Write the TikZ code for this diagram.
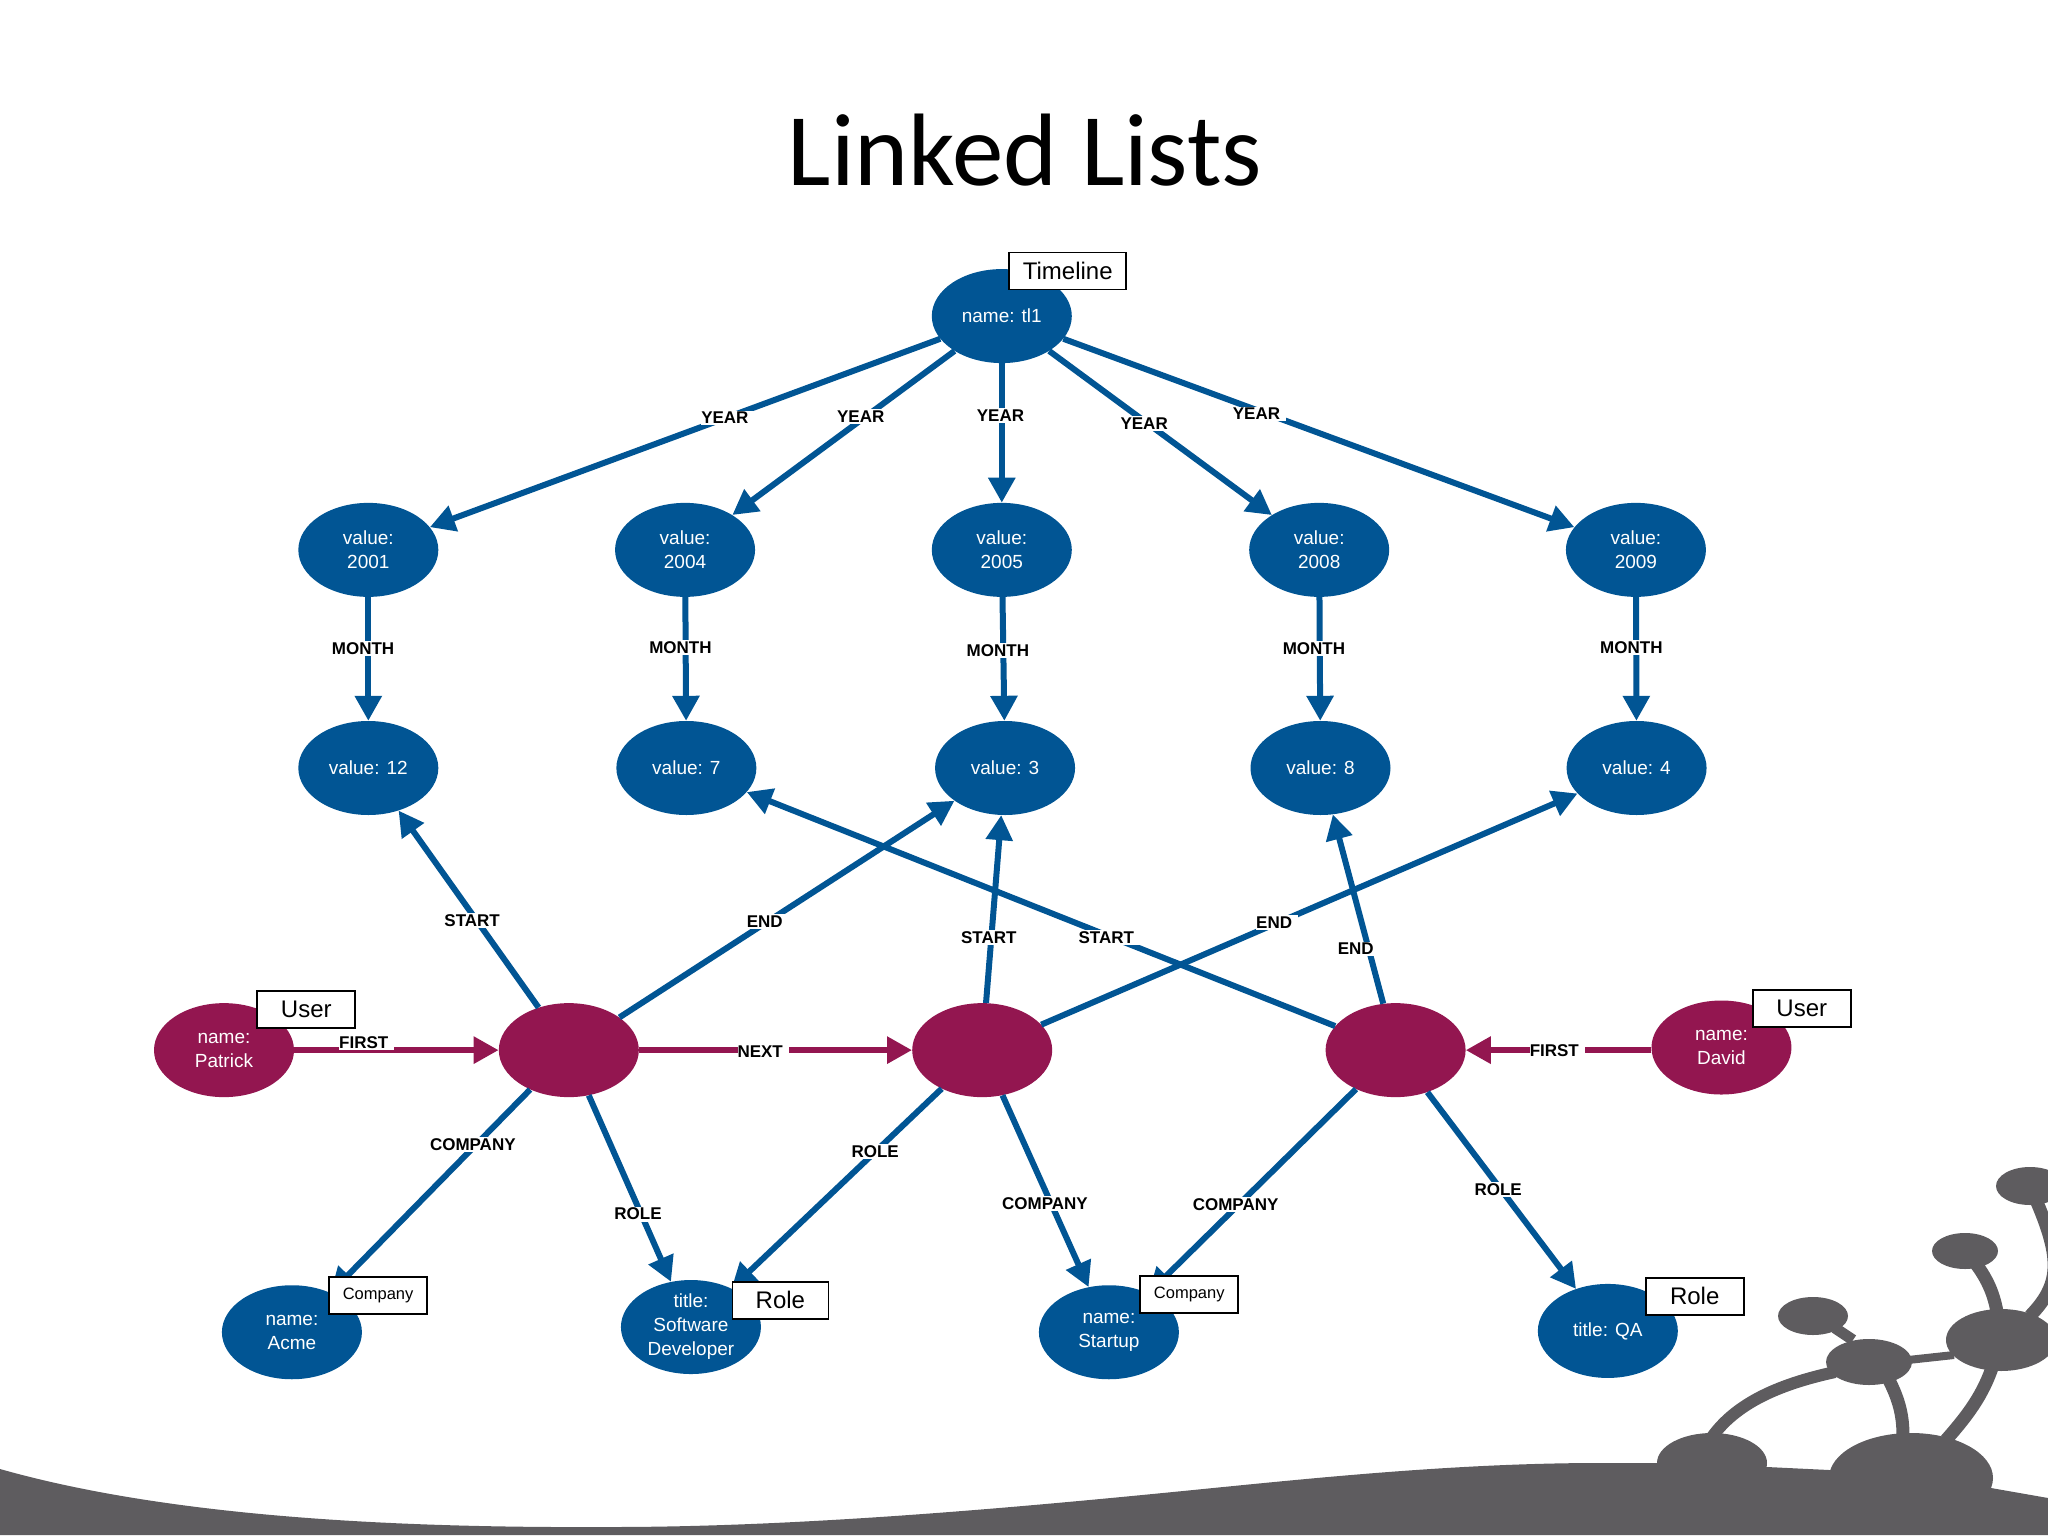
\documentclass[tikz,border=0pt]{standalone}
\usepackage{fontspec}
\setmainfont{Liberation Sans}
\newfontfamily\titlefont{Carlito}
\usetikzlibrary{arrows.meta,shapes.geometric}
\definecolor{nodeblue}{HTML}{015594}
\definecolor{nodepurple}{HTML}{931650}
\definecolor{deco}{HTML}{5E5C5F}
\tikzset{
  blob/.style={ellipse,inner sep=0pt,minimum width=140pt,minimum height=94pt,align=center,text=white,
    font=\fontsize{19}{24}\selectfont},
  bluenode/.style={blob,fill=nodeblue},
  purplenode/.style={blob,fill=nodepurple},
  edgeblue/.style={draw=nodeblue,line width=6pt,-{Triangle[length=25pt,width=26pt]}},
  edgepurple/.style={draw=nodepurple,line width=6pt,-{Triangle[length=25pt,width=26pt]}},
  lab/.style={fill=white,inner xsep=0pt,inner ysep=1.5pt,xshift=3pt,text=black,
    font=\fontsize{17}{19}\selectfont\bfseries,execute at end node={\hspace{6pt}}},
  tag/.style={draw=black,fill=white,line width=1.6pt,inner sep=0pt,text=black,minimum height=37pt,
    font=\fontsize{24}{28}\selectfont},
  stem/.style={draw=deco,line cap=butt}
}
\begin{document}
\begin{tikzpicture}[x=1pt,y=-1pt]
\useasboundingbox (0,0) rectangle (2048,1536);
% decoration
\fill[deco] (0,1469) .. controls (180,1520) and (420,1528) .. (612,1527)
  .. controls (800,1527) and (1010,1508) .. (1173,1492)
  .. controls (1300,1479.5) and (1450,1463) .. (1600,1463)
  -- (1657,1463) -- (1767,1467) -- (1829,1470) -- (1991,1488) -- (2048,1498) -- (2048,1535) -- (0,1535) -- cycle;
\fill[deco] (1712,1463) ellipse [x radius=55,y radius=30];
\fill[deco] (1911,1478) ellipse [x radius=82,y radius=45];
\fill[deco] (1813,1316) ellipse [x radius=35,y radius=19];
\fill[deco] (1869,1362) ellipse [x radius=43,y radius=23];
\fill[deco] (2001,1340) ellipse [x radius=55,y radius=31];
\fill[deco] (1965,1251) ellipse [x radius=33,y radius=18];
\fill[deco] (2030,1186) ellipse [x radius=34,y radius=19];
\draw[stem,line width=11pt] (1835,1328) -- (1853,1340);
\draw[stem,line width=8pt] (1908,1360) -- (1954,1355);
\draw[stem,line width=13pt] (1976,1264) .. controls (1988,1280) and (1994,1295) .. (1997,1312);
\draw[stem,line width=13pt] (2036,1200) .. controls (2062,1260) and (2060,1285) .. (2030,1316);
\draw[stem,line width=12pt] (1835,1372) .. controls (1775,1385) and (1735,1405) .. (1712,1437);
\draw[stem,line width=13pt] (1889,1380) .. controls (1899,1400) and (1903,1415) .. (1903,1436);
\draw[stem,line width=13pt] (1993,1365) .. controls (1983,1395) and (1968,1415) .. (1946,1440);
\node[font=\titlefont\fontsize{103}{120}\selectfont,text=black,inner sep=0pt] (title) at (1025,150) {Linked Lists};
\begin{scope}[x=1.30612pt,y=-1.30612pt]
% nodes
\node[bluenode] (tl) at (767,242) {name: tl1};
\node[bluenode] (y1) at (282,421) {value:\\2001};
\node[bluenode] (y2) at (524.5,421) {value:\\2004};
\node[bluenode] (y3) at (767,421) {value:\\2005};
\node[bluenode] (y4) at (1010,421) {value:\\2008};
\node[bluenode] (y5) at (1252.5,421) {value:\\2009};
\node[bluenode] (m1) at (282,588) {value: 12};
\node[bluenode] (m2) at (525.5,588) {value: 7};
\node[bluenode] (m3) at (769.5,588) {value: 3};
\node[bluenode] (m4) at (1011,588) {value: 8};
\node[bluenode] (m5) at (1253,588) {value: 4};
\node[purplenode] (patrick) at (171.5,804) {name:\\Patrick};
\node[purplenode] (n1) at (435.5,804) {};
\node[purplenode] (n2) at (752,804) {};
\node[purplenode] (n3) at (1068.5,804) {};
\node[purplenode] (david) at (1318,802) {name:\\David};
\node[bluenode] (acme) at (223.5,1020) {name:\\Acme};
\node[bluenode] (dev) at (529,1016) {title:\\Software\\Developer};
\node[bluenode] (startup) at (849,1020) {name:\\Startup};
\node[bluenode] (qa) at (1231,1019) {title: QA};
% edges
\foreach \t in {y1,y2,y3,y4,y5}{\draw[edgeblue] (tl) -- (\t);}
\draw[edgeblue] (y1) -- (m1);
\draw[edgeblue] (y2) -- (m2);
\draw[edgeblue] (y3) -- (m3);
\draw[edgeblue] (y4) -- (m4);
\draw[edgeblue] (y5) -- (m5);
\draw[edgeblue] (n1) -- (m1);
\draw[edgeblue] (n1) -- (m3);
\draw[edgeblue] (n2) -- (m3);
\draw[edgeblue] (n2) -- (m5);
\draw[edgeblue] (n3) -- (m2);
\draw[edgeblue] (n3) -- (m4);
\draw[edgeblue] (n1) -- (acme);
\draw[edgeblue] (n1) -- (dev);
\draw[edgeblue] (n2) -- (dev);
\draw[edgeblue] (n2) -- (startup);
\draw[edgeblue] (n3) -- (startup);
\draw[edgeblue] (n3) -- (qa);
\draw[edgepurple] (patrick.east |- n1) -- (n1);
\draw[edgepurple] (n1) -- (n2);
\draw[edgepurple] (david.west |- n3) -- (n3);
% labels
\node[lab] (l1) at (555,320) {YEAR};
\node[lab] (l2) at (659,319) {YEAR};
\node[lab] (l3) at (766,318) {YEAR};
\node[lab] (l4) at (876,324) {YEAR};
\node[lab] (l5) at (962,317) {YEAR};
\node[lab] (l6) at (278,496.5) {MONTH};
\node[lab] (l7) at (521,495.5) {MONTH};
\node[lab] (l8) at (764,498) {MONTH};
\node[lab] (l9) at (1006,496.5) {MONTH};
\node[lab] (l10) at (1249,495.5) {MONTH};
\node[lab] (l11) at (361.5,704.5) {START};
\node[lab] (l12) at (585.5,705.5) {END};
\node[lab] (l13) at (757,717.5) {START};
\node[lab] (l14) at (847,718) {START};
\node[lab] (l15) at (975.5,706.5) {END};
\node[lab] (l16) at (1038,726.5) {END};
\node[lab] (l17) at (278.5,798.5) {FIRST};
\node[lab] (l18) at (582,805) {NEXT};
\node[lab] (l19) at (1190,804.5) {FIRST};
\node[lab] (l20) at (362,876.5) {COMPANY};
\node[lab] (l21) at (488.5,929.5) {ROLE};
\node[lab] (l22) at (670,881.5) {ROLE};
\node[lab] (l23) at (800,921.5) {COMPANY};
\node[lab] (l24) at (946,922) {COMPANY};
\node[lab] (l25) at (1147,910.5) {ROLE};
% type tags
\node[tag,minimum width=117pt] (t1) at (817.5,207.5) {Timeline};
\node[tag,minimum width=98pt] (t2) at (234.5,773) {User};
\node[tag,minimum width=98pt] (t3) at (1379.5,772) {User};
\node[tag,minimum width=98pt,font=\fontsize{16.5}{20}\selectfont] (t4) at (289.5,992) {Company};
\node[tag,minimum width=96pt] (t5) at (597.5,995.5) {Role};
\node[tag,minimum width=98pt,font=\fontsize{16.5}{20}\selectfont] (t6) at (910.5,991) {Company};
\node[tag,minimum width=98pt] (t7) at (1297.5,992.5) {Role};
\end{scope}
\end{tikzpicture}
\end{document}
